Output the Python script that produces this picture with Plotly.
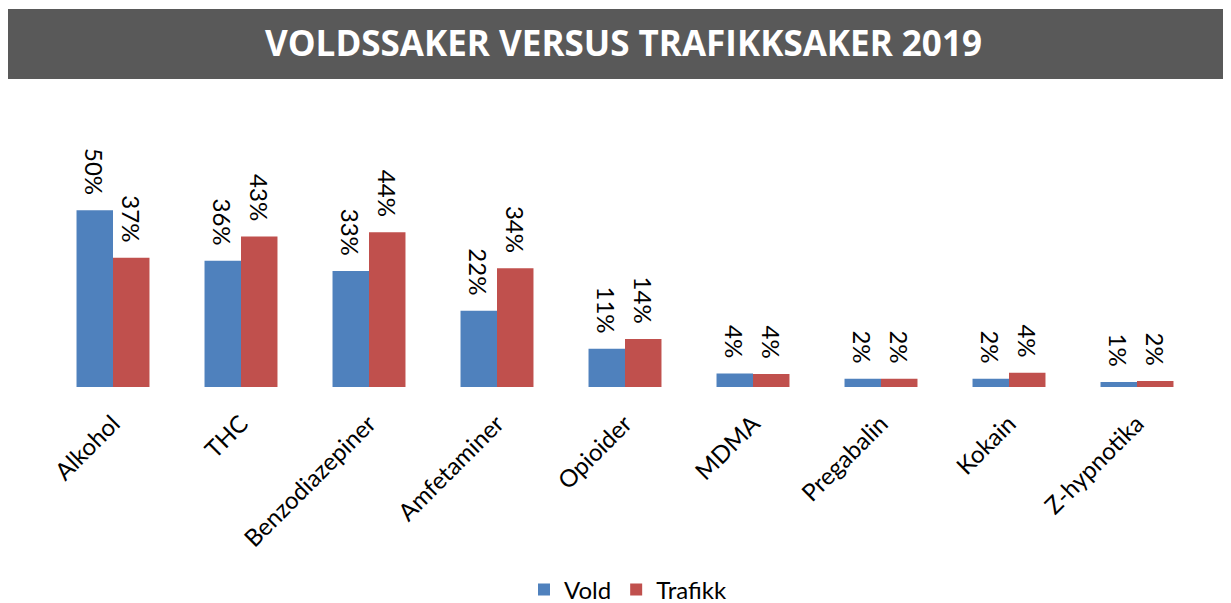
import plotly.graph_objects as go

categories = ["Alkohol", "THC", "Benzodiazepiner", "Amfetaminer", "Opioider",
              "MDMA", "Pregabalin", "Kokain", "Z-hypnotika"]
vold = [50.0, 35.7, 32.8, 21.6, 10.8, 3.8, 2.3, 2.3, 1.4]
trafikk = [36.6, 42.6, 43.8, 33.6, 13.6, 3.7, 2.3, 4.0, 1.7]
series_names = ["Vold", "Trafikk"]
colors = ["#4F81BD", "#C0504D"]
title_text = "VOLDSSAKER VERSUS TRAFIKKSAKER 2019"

FONT = "Lato"
OFF = 8  # page body margin in the browser
W, H = 1231 - OFF, 603 - OFF
# target pixel positions (screen coordinates)
PLOT_L, PLOT_R, PLOT_T, PLOT_B = 49, 1201, 175, 387
ML, MR = PLOT_L - OFF, 1231 - PLOT_R
MT, MB = PLOT_T - OFF, 603 - PLOT_B
PW, PH = W - ML - MR, H - MT - MB

def px_x(x):
    return (x - OFF - ML) / PW

def px_y(y):
    return (H - MB - (y - OFF)) / PH

fig = go.Figure()
for name, vals, col in zip(series_names, [vold, trafikk], colors):
    fig.add_trace(go.Bar(
        x=categories, y=vals, name=name,
        marker=dict(color=col, line=dict(width=0)),
        texttemplate="%{y:.0f}%\u00a0\u00a0", textposition="outside", textangle=90,
        textfont=dict(family=FONT, size=24, color="black"),
        constraintext="none",
        cliponaxis=False,
    ))

fig.update_layout(
    width=W, height=H,
    margin=dict(l=ML, r=MR, t=MT, b=MB, autoexpand=False),
    paper_bgcolor="white", plot_bgcolor="white",
    barmode="group", bargap=0.43, bargroupgap=0,
    showlegend=True,
    legend=dict(orientation="h", x=px_x(628), xanchor="center", y=px_y(590), yanchor="middle",
                font=dict(family=FONT, size=24, color="black"),
                itemsizing="constant", itemwidth=30, tracegroupgap=0),
    xaxis=dict(showgrid=False, showline=False, zeroline=False, ticks="",
               automargin=False, ticklabelstandoff=17,
               tickangle=-45, tickfont=dict(family=FONT, size=24, color="black")),
    yaxis=dict(range=[0, 60], visible=False, showgrid=False, zeroline=False, automargin=False),
    shapes=[dict(type="rect", xref="paper", yref="paper",
                 x0=px_x(7), x1=px_x(1232), y0=px_y(79), y1=px_y(9),
                 fillcolor="#595959", line=dict(width=0), layer="below")],
)
fig.add_annotation(text="<b>" + title_text + "</b>", xref="paper", yref="paper",
                   x=px_x(623), y=px_y(42), xanchor="center", yanchor="middle",
                   showarrow=False, font=dict(family="Open Sans", size=35, color="white"))

fig.write_html("out.html")
